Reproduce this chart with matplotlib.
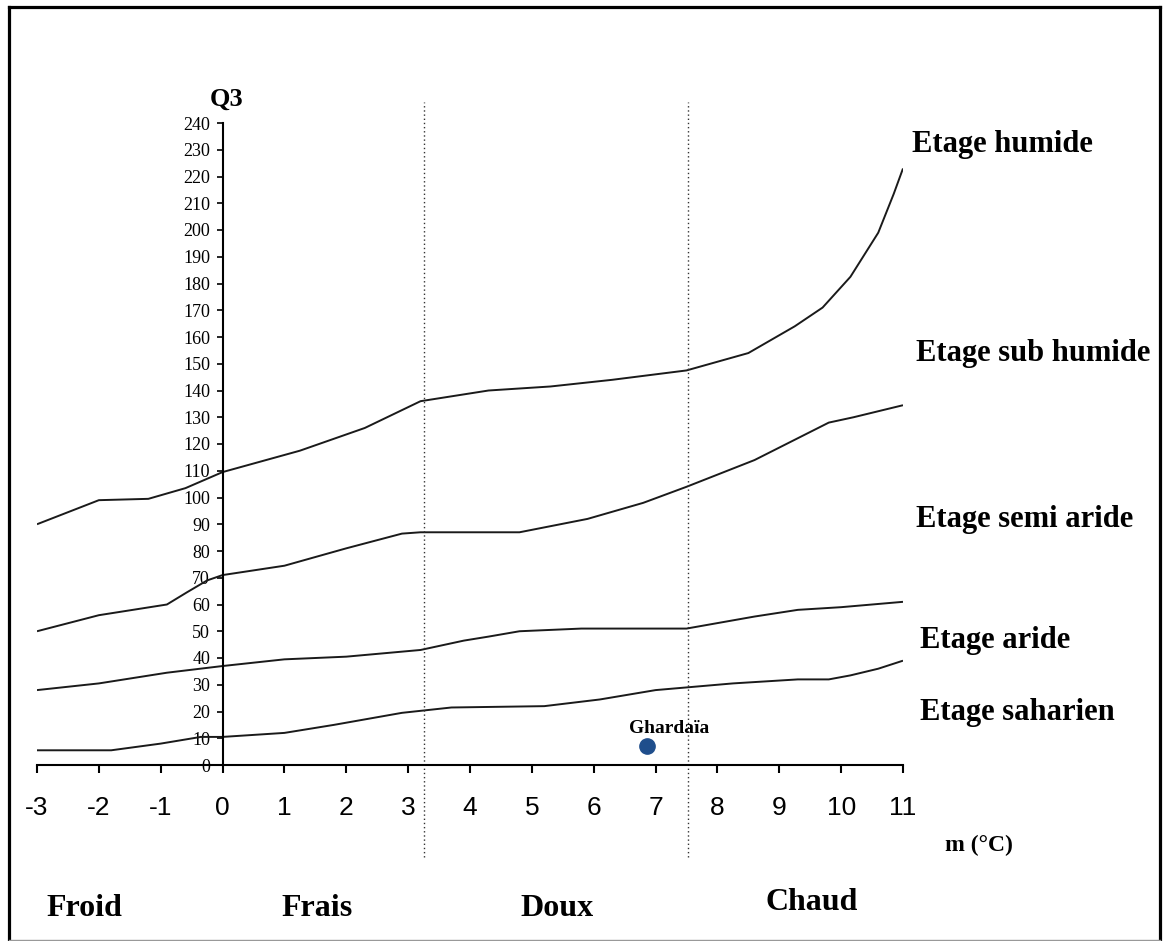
import matplotlib
matplotlib.use("Agg")
import matplotlib.pyplot as plt
from matplotlib.lines import Line2D

# Emberger climagram: Q3 vs m (°C)
m_humide = [-3, -2, -1.2, -0.6, 0, 1.25, 2.3, 3.2, 4.3, 5.3, 6.3, 7.5, 8.5, 9.25, 9.7, 10.15, 10.6, 10.85, 11]
q_humide = [90, 99, 99.5, 103.5, 109.5, 117.5, 126, 136, 140, 141.5, 144, 147.5, 154, 164, 171, 182.5, 199, 213.5, 223]

m_subhum = [-3, -2, -0.9, -0.58, -0.25, 0, 1, 2, 2.9, 3.2, 4.8, 5.9, 6.8, 7.5, 8.6, 9.8, 10.2, 11]
q_subhum = [50, 56, 60, 64.5, 69, 71, 74.5, 81, 86.5, 87, 87, 92, 98, 104, 114, 128, 130, 134.5]

m_semi = [-3, -2, -0.9, 0, 1, 2, 3.2, 3.9, 4.3, 4.8, 5.8, 7.5, 8.6, 9.3, 10, 11]
q_semi = [28, 30.5, 34.5, 37, 39.5, 40.5, 43, 46.5, 48, 50, 51, 51, 55.5, 58, 59, 61]

m_aride = [-3, -1.8, -1, -0.35, 0, 1, 1.8, 2.9, 3.7, 5.2, 6.1, 7, 7.5, 8.25, 9.3, 9.8, 10.15, 10.6, 11]
q_aride = [5.5, 5.5, 8, 10.5, 10.5, 12, 15, 19.5, 21.5, 22, 24.5, 28, 29, 30.5, 32, 32, 33.5, 36, 39]

station_name = "Ghardaïa"
station_m = 6.86
station_q = 7.1

zone_limits = [3.26, 7.53]
zone_names = ["Froid", "Frais", "Doux", "Chaud"]
zone_x = [-2.24, 1.53, 5.41, 9.53]
zone_y = [-53.5, -53.5, -53.5, -51.5]

etage_names = ["Etage humide", "Etage sub humide", "Etage semi aride", "Etage aride", "Etage saharien"]
etage_x = [11.145, 11.21, 11.21, 11.27, 11.27]
etage_y = [231.8, 154, 91.6, 46.7, 19.8]

x_ticks = list(range(-3, 12))
y_ticks = list(range(0, 250, 10))

W, H = 1165, 941
fig = plt.figure(figsize=(W / 100, H / 100), dpi=100)
ax = fig.add_axes([37 / W, (H - 765) / H, 866 / W, 642 / H])

for xs, ys in [(m_humide, q_humide), (m_subhum, q_subhum), (m_semi, q_semi), (m_aride, q_aride)]:
    ax.plot(xs, ys, color="#1a1a1a", lw=1.4, solid_capstyle="butt")

for xl in zone_limits:
    ax.plot([xl, xl], [-34.4, 248], color="#333333", lw=1.0, ls=(0, (1, 2)), clip_on=False)

ax.plot([station_m], [station_q], "o", color="#1f4e8c", ms=11, clip_on=False)
ax.text(station_m + 0.36, station_q + 6.6, station_name, fontsize=14, fontweight="bold",
        family="Liberation Serif", ha="center", va="center")

ax.set_xlim(-3, 11)
ax.set_ylim(0, 240)
ax.spines["top"].set_visible(False)
ax.spines["right"].set_visible(False)
ax.spines["left"].set_position(("data", 0))
ax.spines["left"].set_linewidth(1.5)
ax.spines["bottom"].set_linewidth(1.5)

ax.set_xticks(x_ticks)
ax.set_xticklabels([str(t) for t in x_ticks], family=["Liberation Sans Narrow", "Liberation Sans"], fontsize=19)
ax.set_yticks(y_ticks)
ax.set_yticklabels([str(t) for t in y_ticks], family="Liberation Serif", fontsize=13)
ax.tick_params(axis="x", direction="out", length=6, width=1.5, pad=16)
ax.tick_params(axis="y", direction="out", length=4, width=1.2, pad=5)

ax.text(0.07, 249, "Q3", fontsize=19, fontweight="bold", family="Liberation Serif",
        ha="center", va="center", clip_on=False)
ax.text(12.23, -29.9, "m (°C)", fontsize=17, fontweight="bold", family="Liberation Serif",
        ha="center", va="center", clip_on=False)

for name, x, y in zip(etage_names, etage_x, etage_y):
    ax.text(x, y, name, fontsize=22, fontweight="bold", family="Liberation Serif",
            ha="left", va="center", clip_on=False)

for name, x, y in zip(zone_names, zone_x, zone_y):
    ax.text(x, y, name, fontsize=23, fontweight="bold", family="Liberation Serif",
            ha="center", va="center", clip_on=False)

# frame around the whole picture
def px_line(x0, y0, x1, y1, color, lw):
    fig.add_artist(Line2D([x0 / W, x1 / W], [1 - y0 / H, 1 - y1 / H],
                          transform=fig.transFigure, color=color, lw=lw))

px_line(8.5, 6.5, 8.5, 940, "black", 2.3)
px_line(8.5, 6.5, 1160, 6.5, "black", 2.3)
px_line(1160, 6.5, 1160, 940, "black", 2.3)
px_line(8.5, 939.5, 1160, 939.5, "#999999", 1.0)

fig.savefig("out.png", dpi=100)
